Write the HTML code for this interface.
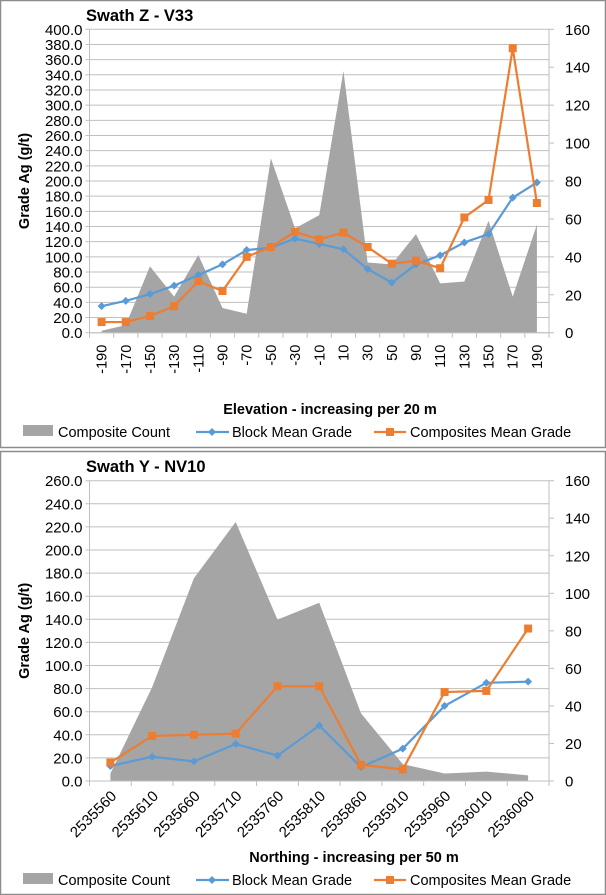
<!DOCTYPE html>
<html><head><meta charset="utf-8"><style>
body{margin:0;background:#fff;}
svg{display:block;font-family:"Liberation Sans",sans-serif;}
</style></head><body>
<svg id="s" width="606" height="895"></svg>
<script>
// Chart 1 data
const zCats = ["-190","-170","-150","-130","-110","-90","-70","-50","-30","-10","10","30","50","90","110","130","150","170","190"];
const zCount = [1,4,35,19,41,13,10,92,55,62,138,37,36,52,26,27,59,19,57];
const zBlock = [35,42,51,62,76,90,109,112,124,117,110,84,66,90,102,119,130,178,198];
const zComp = [14,14,22,35,68,55,100,113,133,123,132,113,91,95,85,152,175,375,171];
const zLeftTicks = [0,20,40,60,80,100,120,140,160,180,200,220,240,260,280,300,320,340,360,380,400];
const zRightTicks = [0,20,40,60,80,100,120,140,160];
// Chart 2 data
const yCats = ["2535560","2535610","2535660","2535710","2535760","2535810","2535860","2535910","2535960","2536010","2536060"];
const yCount = [4,50,108,138,86,95,36,9,4,5,3];
const yBlock = [13,21,17,32,22,48,12,28,65,85,86];
const yComp = [16,39,40,41,82,82,14,10,77,78,132];
const yLeftTicks = [0,20,40,60,80,100,120,140,160,180,200,220,240,260];
const yRightTicks = [0,20,40,60,80,100,120,140,160];

const NS="http://www.w3.org/2000/svg";
const svg=document.getElementById('s');
function mk(tag,attrs,parent,text){const e=document.createElementNS(NS,tag);for(const k in attrs)e.setAttribute(k,attrs[k]);if(text!==undefined)e.textContent=text;(parent||svg).appendChild(e);return e;}

function chart(o){
  const g=mk('g',{});
  
  
  const b=mk('rect',{x:o.px+0.5,y:o.py+0.5,width:o.pw-1,height:o.ph-1,fill:'#fff',stroke:'#8c8c8c','stroke-width':1.5},g);
  
  
  const L=89.5,R=549,T=o.top,B=o.bot;
  const n=o.cats.length, bw=(R-L)/n;
  const x=i=>L+bw*(i+0.5);
  const yl=v=>B-(v/o.lmax)*(B-T);
  const yr=v=>B-(v/o.rmax)*(B-T);
  const t=mk('text',{x:86,y:o.py+21,'font-size':16.5,'font-weight':'bold'},g,o.title);
  
  
  o.lt.forEach(v=>{
    const gl=mk('line',{x1:L-4,x2:R,y1:yl(v),y2:yl(v),stroke:'#bfbfbf','stroke-width':1},g);
    
    
    const tl=mk('text',{x:L-7,y:yl(v)+5.5,'text-anchor':'end','font-size':15},g,v.toFixed(1));
    
    
  });
  o.rt.forEach(v=>{
    mk('line',{x1:R,x2:R+5,y1:yr(v),y2:yr(v),stroke:'#bfbfbf'},g);
    const tr=mk('text',{x:R+16,y:yr(v)+5.5,'font-size':15},g,String(v));
    
    
  });
  mk('line',{x1:L,x2:L,y1:T,y2:B,stroke:'#bfbfbf'},g);
  mk('line',{x1:R,x2:R,y1:T,y2:B,stroke:'#bfbfbf'},g);
  let d=`M${x(0)},${B}`;
  o.count.forEach((v,i)=>{d+=` L${x(i)},${yr(v)}`;});
  d+=` L${x(n-1)},${B} Z`;
  const a=mk('path',{d:d,fill:'#a5a5a5'},g);
  
  
  mk('line',{x1:L,x2:R,y1:B,y2:B,stroke:'#bfbfbf'},g);
  for(let i=0;i<=n;i++) mk('line',{x1:L+bw*i,x2:L+bw*i,y1:B,y2:B+5,stroke:'#bfbfbf'},g);
  o.cats.forEach((c,i)=>{
    let xl;
    if(o.rot===90){xl=mk('text',{x:0,y:0,'text-anchor':'end','font-size':14.5,transform:`translate(${x(i)+5},${B+12}) rotate(-90)`},g,c);}
    else {xl=mk('text',{x:0,y:0,'text-anchor':'end','font-size':15,transform:`translate(${x(i)+7},${B+16}) rotate(-45)`},g,c);}
    
    
  });
  const series=[[o.block,'#5b9bd5','block-mean-grade','d'],[o.comp,'#ed7d31','composites-mean-grade','s']];
  series.forEach(([arr,col,nm,mkT])=>{
    const pl=mk('polyline',{points:arr.map((v,i)=>x(i)+','+yl(v)).join(' '),fill:'none',stroke:col,'stroke-width':2.2},g);
    
    
    arr.forEach((v,i)=>{
      let m;
      if(mkT==='s') m=mk('rect',{x:x(i)-4,y:yl(v)-4,width:8,height:8,fill:col},g);
      else m=mk('path',{d:`M${x(i)},${yl(v)-4} L${x(i)+4},${yl(v)} L${x(i)},${yl(v)+4} L${x(i)-4},${yl(v)} Z`,fill:col},g);
      
      
    });
  });
  const yt=mk('text',{x:0,y:0,'text-anchor':'middle','font-size':14.5,'font-weight':'bold',transform:`translate(29,${(T+B)/2}) rotate(-90)`},g,'Grade Ag (g/t)');
  
  
  const xt=mk('text',{x:o.xtx,y:o.xty,'text-anchor':'middle','font-size':14.5,'font-weight':'bold'},g,o.xtitle);
  
  
  const ly=o.ly;
  const lg=mk('g',{},g);
  
  
  mk('rect',{x:23,y:ly-7,width:30,height:11,fill:'#a5a5a5'},lg);
  mk('text',{x:58,y:ly+5,'font-size':14.5},lg,'Composite Count');
  mk('line',{x1:196,x2:229,y1:ly,y2:ly,stroke:'#5b9bd5','stroke-width':2.2},lg);
  mk('path',{d:`M212,${ly-4} L216,${ly} L212,${ly+4} L208,${ly} Z`,fill:'#5b9bd5'},lg);
  mk('text',{x:232,y:ly+5,'font-size':14.5},lg,'Block Mean Grade');
  mk('line',{x1:374,x2:406,y1:ly,y2:ly,stroke:'#ed7d31','stroke-width':2.2},lg);
  mk('rect',{x:386,y:ly-4,width:8,height:8,fill:'#ed7d31'},lg);
  mk('text',{x:410,y:ly+5,'font-size':14.5},lg,'Composites Mean Grade');
}
chart({name:'swath-z-v33-chart',title:'Swath Z - V33',px:0,py:0,pw:606,ph:448,top:29.3,bot:332.7,lmax:400,rmax:160,
  cats:zCats,count:zCount,block:zBlock,comp:zComp,lt:zLeftTicks,rt:zRightTicks,rot:90,
  xtitle:'Elevation - increasing per 20 m',xtx:330,xty:414,ly:432});
chart({name:'swath-y-nv10-chart',title:'Swath Y - NV10',px:0,py:451,pw:606,ph:444,top:480.7,bot:781,lmax:260,rmax:160,
  cats:yCats,count:yCount,block:yBlock,comp:yComp,lt:yLeftTicks,rt:yRightTicks,rot:45,
  xtitle:'Northing - increasing per 50 m',xtx:354,xty:862,ly:880});
</script>
</body></html>
